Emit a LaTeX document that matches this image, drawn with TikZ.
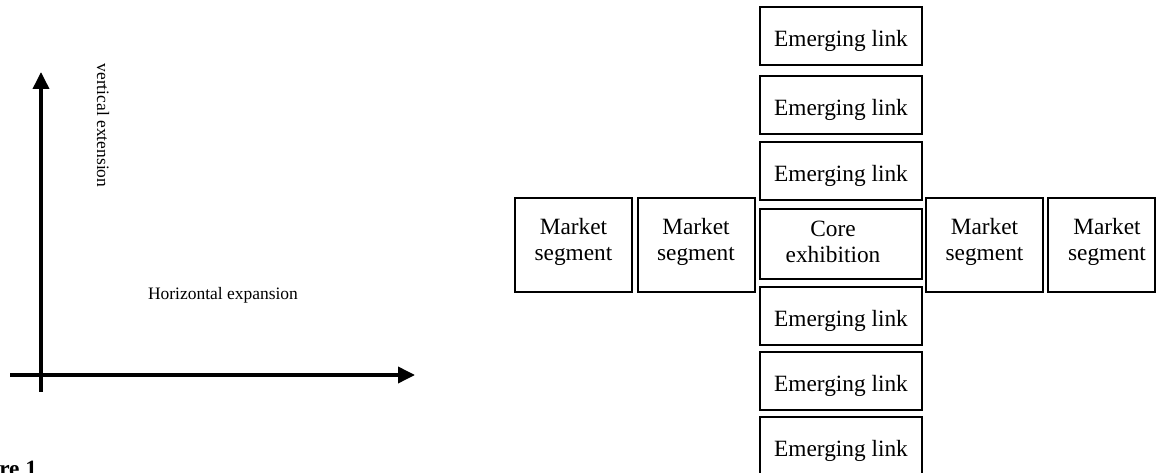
\documentclass[tikz,border=0pt]{standalone}
\usepackage{fontspec}
\setmainfont{Liberation Serif}
\usetikzlibrary{arrows.meta}
\begin{document}
\begin{tikzpicture}[x=0.75pt,y=-0.75pt,
  boxline/.style={draw=black,line width=1.5pt,inner sep=0pt},
  ebox/.style={boxline,minimum width=121.5pt,minimum height=43.5pt},
  cbox/.style={boxline,minimum width=121.5pt,minimum height=52.5pt},
  mbox/.style={boxline,minimum width=87.75pt,minimum height=70.5pt},
  lbl/.style={inner sep=0pt,align=center,font=\fontsize{17.5pt}{19.2pt}\selectfont},
  small/.style={inner sep=0pt,font=\fontsize{13.1pt}{15pt}\selectfont},
  axis/.style={line width=2.7pt,-{Triangle[length=12.75pt,width=12pt]}},
]
\useasboundingbox (0,0) rectangle (1156,473);
\fill[white] (0,0) rectangle (1156,473);
\clip (0,0) rectangle (1156,473);

% axes
\coordinate (vb) at (41,392);
\coordinate (vt) at (41,72);
\coordinate (hl) at (10,375);
\coordinate (hr) at (415,375);
\draw[axis] (vb) -- (vt);
\draw[axis] (hl) -- (hr);
\node[small,rotate=-90] (vlab) at (103,125.5) {vertical extension};
\node[small] (hlab) at (223,295) {Horizontal expansion};

% central column
\node[ebox] (e1) at (841,36.5) {};
\node[ebox] (e2) at (841,105) {};
\node[ebox] (e3) at (841,171) {};
\node[cbox] (core) at (841,244) {};
\node[ebox] (e4) at (841,316) {};
\node[ebox] (e5) at (841,381.5) {};
\node[ebox] (e6) at (841,446.5) {};
\foreach \n in {e1,e2,e3,e4,e5,e6}
  \node[lbl] (\n t) at ([yshift=-3.5pt]\n.center) {Emerging link};
\node[lbl] (coret) at (833,242) {Core\\exhibition};

% market segments
\node[mbox] (m1) at (573.5,245) {};
\node[mbox] (m2) at (696,245) {};
\node[mbox] (m3) at (984.5,245) {};
\node[mbox,minimum width=80.25pt] (m4) at (1101.5,245) {};
\node[lbl] (m1t) at (573.5,242) {Market\\segment};
\node[lbl] (m2t) at (696,242) {Market\\segment};
\node[lbl] (m3t) at (984.5,242) {Market\\segment};
\node[lbl] (m4t) at (1107,242) {Market\\segment};

% caption (cut off)
\node[lbl,font=\fontsize{17.5pt}{19.2pt}\selectfont\bfseries,anchor=base west] (cap) at (-1,477) {re 1};
\end{tikzpicture}
\end{document}
